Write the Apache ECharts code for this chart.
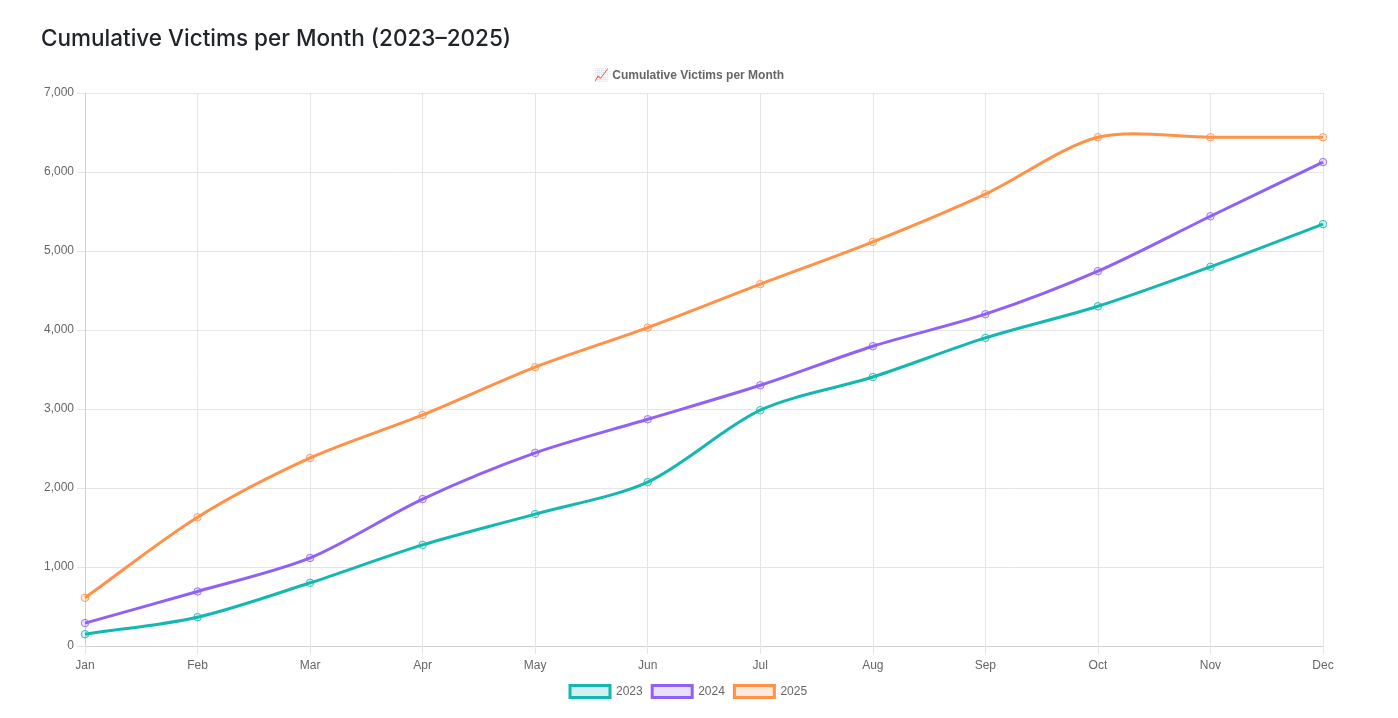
<!DOCTYPE html>
<html><head><meta charset="utf-8">
<style>html,body{margin:0;padding:0;background:#fff}#c{width:1398px;height:718px}</style>
<script src="https://cdn.jsdelivr.net/npm/echarts@6/dist/echarts.min.js"></script>
</head><body><div id="c"></div>
<script>
const months=['Jan','Feb','Mar','Apr','May','Jun','Jul','Aug','Sep','Oct','Nov','Dec'];
const v2023=[150,365,800,1280,1670,2075,2985,3405,3900,4300,4800,5340];
const v2024=[290,690,1115,1860,2445,2870,3300,3795,4200,4745,5440,6125];
const v2025=[610,1630,2380,2925,3530,4030,4580,5115,5720,6440,6440,6440];
const F='"Liberation Sans",Arial,sans-serif';
const TENSION=0.3;
const TEAL='#14b8b0',PURPLE='#9061f6',ORANGE='#ff9248';
// Cardinal spline through the data points, placed by the chart's own axes.
function curvePath(api,data){
 const p=data.map((v,i)=>api.coord([i,v]));
 const cps=p.map((c,i)=>{
  const a=p[i-1]||c,b=p[i+1]||c;
  const d01=Math.hypot(c[0]-a[0],c[1]-a[1]),d12=Math.hypot(b[0]-c[0],b[1]-c[1]);
  const sum=d01+d12||1;
  const fa=TENSION*d01/sum,fb=TENSION*d12/sum;
  return {px:c[0]-fa*(b[0]-a[0]),py:c[1]-fa*(b[1]-a[1]),nx:c[0]+fb*(b[0]-a[0]),ny:c[1]+fb*(b[1]-a[1])};
 });
 let d='M'+p[0][0]+' '+p[0][1];
 for(let i=1;i<p.length;i++){
  d+=' C'+cps[i-1].nx+' '+cps[i-1].ny+' '+cps[i].px+' '+cps[i].py+' '+p[i][0]+' '+p[i][1];
 }
 return d;
}
function points(name,data,col,fill){return {
 name,type:'line',data,symbol:'circle',symbolSize:7.5,showSymbol:true,z:5,
 lineStyle:{color:col,width:3,opacity:0},
 itemStyle:{color:fill,borderColor:col,borderWidth:1,opacity:0.85},
 emphasis:{disabled:true},clip:false
};}
function curve(name,data,col){return {
 name:name+' curve',type:'custom',coordinateSystem:'cartesian2d',data:data.map((v,i)=>[i,v]),z:3,clip:false,silent:true,
 renderItem:(params,api)=>params.dataIndex!==0?null:{
  type:'path',shape:{pathData:curvePath(api,data)},
  style:{fill:'none',stroke:col,lineWidth:3,lineJoin:'round'}
 }
};}
const chart=echarts.init(document.getElementById('c'),null,{renderer:'canvas'});
chart.setOption({
 animation:false,
 title:[
  {text:'Cumulative Victims per Month (2023–2025)',left:41,top:28,padding:0,textStyle:{fontFamily:'Inter,"Liberation Sans",sans-serif',fontSize:22.5,fontWeight:500,color:'#212529'}},
  {text:'📈 Cumulative Victims per Month',left:689,textAlign:'center',top:70,padding:0,textStyle:{fontFamily:F+',"Noto Color Emoji"',fontSize:12,fontWeight:'bold',color:'#666'}}
 ],
 grid:{left:85,right:75,top:93,bottom:72},
 legend:{bottom:19,left:568.5,padding:0,itemWidth:40,itemHeight:12,itemGap:8,selectedMode:false,
  textStyle:{fontFamily:F,fontSize:12,color:'#666',padding:[0,0,0,1]},
  data:[
   {name:'2023',icon:'rect',itemStyle:{color:'rgba(20,184,176,0.2)',borderColor:TEAL,borderWidth:3,opacity:1}},
   {name:'2024',icon:'rect',itemStyle:{color:'rgba(144,97,246,0.2)',borderColor:PURPLE,borderWidth:3,opacity:1}},
   {name:'2025',icon:'rect',itemStyle:{color:'rgba(255,146,72,0.2)',borderColor:ORANGE,borderWidth:3,opacity:1}}
  ]},
 xAxis:{type:'category',data:months,boundaryGap:false,
  axisLine:{lineStyle:{color:'#d0d0d0'}},
  axisTick:{show:true,length:8,lineStyle:{color:'#e5e5e5'}},
  axisLabel:{fontFamily:F,fontSize:12,color:'#666',margin:14,showMaxLabel:true,showMinLabel:true,interval:0},
  splitLine:{show:true,lineStyle:{color:'#e5e5e5',width:1}}},
 yAxis:{type:'value',min:0,max:7000,interval:1000,
  axisLine:{show:true,lineStyle:{color:'#d0d0d0'}},
  axisTick:{show:true,length:8,lineStyle:{color:'#e5e5e5'}},
  axisLabel:{fontFamily:F,fontSize:12,color:'#666',margin:11,padding:[4,0,0,0],formatter:v=>v.toLocaleString('en-US')},
  splitLine:{show:true,lineStyle:{color:'#e5e5e5',width:1}}},
 series:[
  curve('2023',v2023,TEAL),
  curve('2024',v2024,PURPLE),
  curve('2025',v2025,ORANGE),
  points('2023',v2023,TEAL,'rgba(20,184,176,0.2)'),
  points('2024',v2024,PURPLE,'rgba(144,97,246,0.2)'),
  points('2025',v2025,ORANGE,'rgba(255,146,72,0.2)')
 ]
});
</script></body></html>
